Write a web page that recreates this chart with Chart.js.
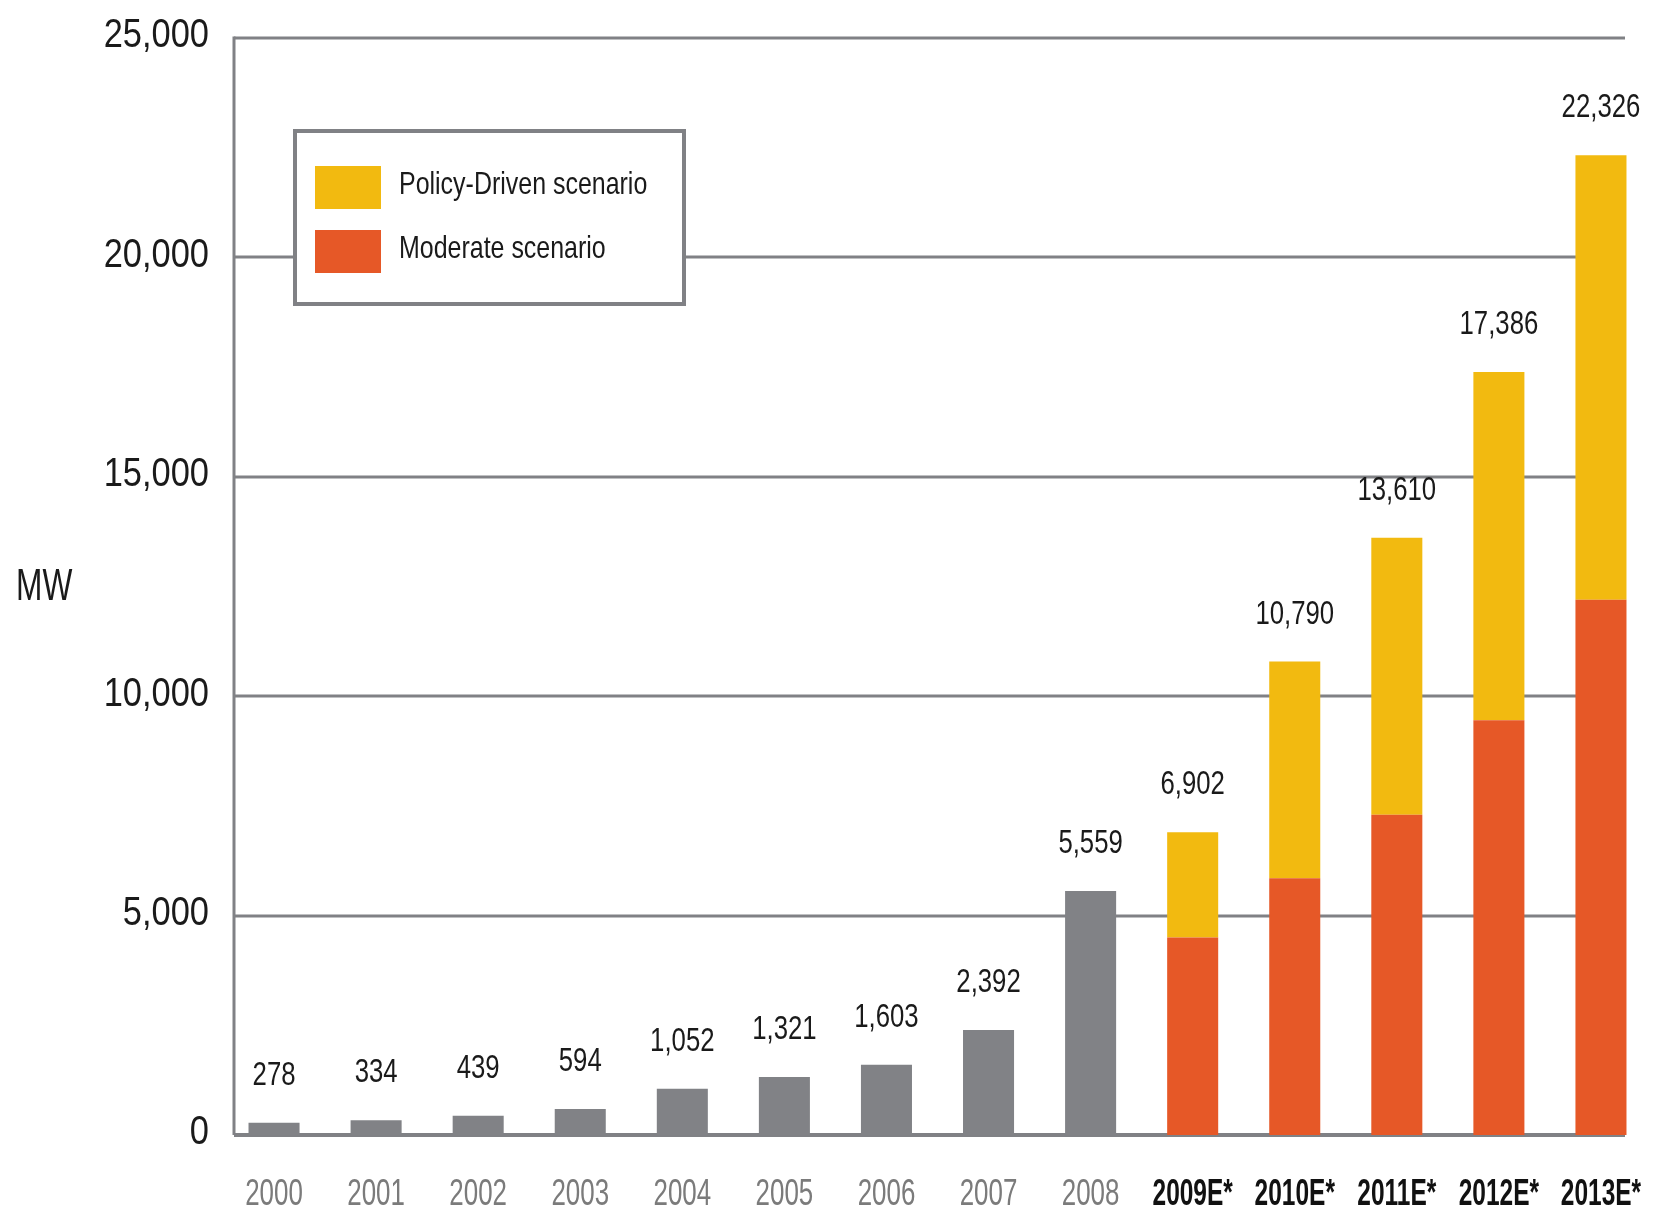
<!DOCTYPE html>
<html>
<head>
<meta charset="utf-8">
<title>Annual PV installations</title>
<script src="https://cdn.jsdelivr.net/npm/chart.js@4.4.1/dist/chart.umd.min.js"></script>
<style>
  html, body { margin: 0; padding: 0; background: #fff; }
  #wrap { width: 1655px; height: 1213px; }
</style>
</head>
<body>
<div id="wrap"><canvas id="pvChart" width="1655" height="1213"></canvas></div>
<script>
// annual installations, MW
const years = ['2000', '2001', '2002', '2003', '2004', '2005', '2006', '2007', '2008',
               '2009E*', '2010E*', '2011E*', '2012E*', '2013E*'];
const installed = [278, 334, 439, 594, 1052, 1321, 1603, 2392, 5559, null, null, null, null, null];
const moderate = [null, null, null, null, null, null, null, null, null, 4500, 5850, 7300, 9450, 12200];
const policyDriven = [null, null, null, null, null, null, null, null, null, 6902, 10790, 13610, 17386, 22326];
const yTicks = [0, 5000, 10000, 15000, 20000, 25000];

// yellow part sits on top of the moderate part
const policyExtra = policyDriven.map((v, i) => v == null ? null : v - moderate[i]);

const FONT = "'Liberation Sans', Arial, sans-serif";
const GRID = '#808185';
const GREY = '#818286';
const YELLOW = '#F2BA10';
const ORANGE = '#E65827';
const INK = '#1a1a1a';

function fmt(v) {
  return v.toLocaleString('en-US');
}

// the artwork uses a squeezed sans, so text is drawn with a horizontal scale
function squeezed(ctx, text, x, y, sx, align) {
  ctx.save();
  ctx.translate(x, y);
  ctx.scale(sx, 1);
  ctx.textAlign = align;
  ctx.fillText(text, 0, 0);
  ctx.restore();
}

// horizontal grid, axis line and baseline behind the bars
const gridLines = {
  id: 'gridLines',
  beforeDatasetsDraw(chart) {
    const { ctx, chartArea } = chart;
    const y = chart.scales.y;
    const x0 = chartArea.left + 11;
    const x1 = chartArea.right - 27;
    ctx.save();
    ctx.strokeStyle = GRID;
    y.ticks.forEach(t => {
      const py = Math.round(y.getPixelForValue(t.value));
      ctx.lineWidth = t.value === 0 ? 4 : 3;
      ctx.beginPath();
      ctx.moveTo(x0, py);
      ctx.lineTo(x1, py);
      ctx.stroke();
    });
    ctx.lineWidth = 3;
    ctx.beginPath();
    ctx.moveTo(x0, y.getPixelForValue(25000) - 1.5);
    ctx.lineTo(x0, y.getPixelForValue(0));
    ctx.stroke();
    ctx.restore();
  }
};

// axis labels, totals above each bar, the MW label and the boxed legend
const annotations = {
  id: 'annotations',
  afterDatasetsDraw(chart) {
    const { ctx } = chart;
    const xs = chart.scales.x;
    const ys = chart.scales.y;

    ctx.save();
    ctx.textBaseline = 'middle';

    // y tick labels
    ctx.fillStyle = INK;
    ctx.font = '41px ' + FONT;
    ys.ticks.forEach((t, i) => {
      squeezed(ctx, fmt(t.value), 209, ys.getPixelForTick(i) - 2, 0.84, 'right');
    });

    // category labels
    xs.ticks.forEach((t, i) => {
      const est = i > 8;
      ctx.fillStyle = est ? '#111' : '#7b7b7b';
      ctx.font = (est ? 'bold ' : '') + '36px ' + FONT;
      squeezed(ctx, years[i], xs.getPixelForTick(i), 1195, est ? 0.68 : 0.72, 'center');
    });

    // totals
    ctx.fillStyle = INK;
    ctx.font = '33px ' + FONT;
    years.forEach((yr, i) => {
      const total = installed[i] != null ? installed[i] : policyDriven[i];
      squeezed(ctx, fmt(total), xs.getPixelForValue(i), ys.getPixelForValue(total) - 47, 0.78, 'center');
    });

    ctx.font = '44px ' + FONT;
    squeezed(ctx, 'MW', 16, 588, 0.72, 'left');

    // legend box
    const bx = 295, by = 131, bw = 389, bh = 173;
    ctx.fillStyle = '#fff';
    ctx.fillRect(bx, by, bw, bh);
    ctx.strokeStyle = GRID;
    ctx.lineWidth = 4;
    ctx.strokeRect(bx, by, bw, bh);

    const items = [chart.data.datasets[2], chart.data.datasets[1]];
    ctx.font = '32px ' + FONT;
    items.forEach((ds, k) => {
      const top = 166 + k * 64;
      ctx.fillStyle = ds.backgroundColor;
      ctx.fillRect(315, top, 66, 43);
      ctx.fillStyle = INK;
      squeezed(ctx, ds.label, 399, top + 19, 0.78, 'left');
    });
    ctx.restore();
  }
};

new Chart(document.getElementById('pvChart'), {
  type: 'bar',
  data: {
    labels: years,
    datasets: [
      { label: 'Installed', data: installed, backgroundColor: GREY },
      { label: 'Moderate scenario', data: moderate, backgroundColor: ORANGE },
      { label: 'Policy-Driven scenario', data: policyExtra, backgroundColor: YELLOW }
    ]
  },
  options: {
    responsive: false,
    animation: false,
    layout: { padding: { top: 38, right: 3, left: 0, bottom: 0 } },
    datasets: {
      bar: { categoryPercentage: 0.5, barPercentage: 1, borderWidth: 0, skipNull: true }
    },
    plugins: {
      legend: { display: false },
      tooltip: { enabled: false }
    },
    scales: {
      x: {
        stacked: true,
        grid: { display: false, drawTicks: false },
        border: { display: false },
        afterFit(scale) { scale.height = 78; },
        ticks: { display: false, autoSkip: false }
      },
      y: {
        stacked: true,
        min: 0,
        max: 25000,
        afterFit(scale) { scale.width = 223; },
        afterBuildTicks(scale) { scale.ticks = yTicks.map(v => ({ value: v })); },
        grid: { display: false, drawTicks: false },
        border: { display: false },
        ticks: { display: false }
      }
    }
  },
  plugins: [gridLines, annotations]
});
</script>
</body>
</html>
